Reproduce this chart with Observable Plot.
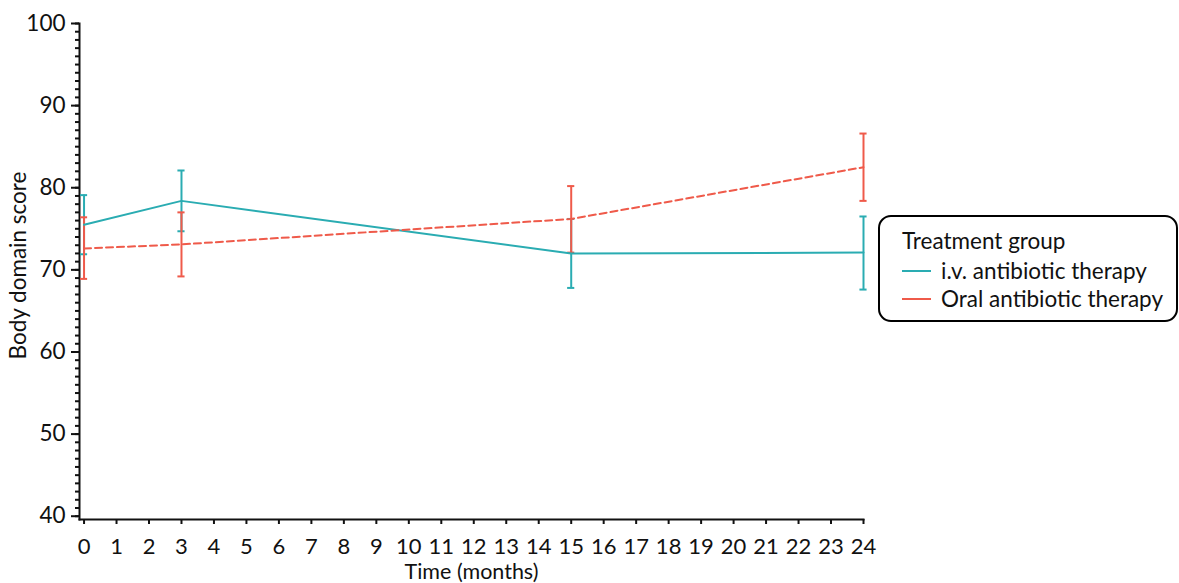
<!DOCTYPE html>
<html>
<head>
<meta charset="utf-8">
<script src="https://cdn.jsdelivr.net/npm/d3@7"></script>
<script src="https://cdn.jsdelivr.net/npm/@observablehq/plot@0.6"></script>
<style>
  html, body { margin: 0; padding: 0; background: #fff; }
  #wrap { position: relative; width: 1179px; height: 583px; font-family: Lato, "Open Sans", sans-serif; }
  .legend {
    position: absolute; left: 878px; top: 215px; width: 296px; height: 103px;
    border: 2px solid #000; border-radius: 13px; box-sizing: content-box;
    font-size: 22.5px; color: #111;
  }
  .legend .title { position: absolute; left: 22px; top: 10px; white-space: nowrap; }
  .legend .item { position: absolute; left: 22px; white-space: nowrap; display: flex; align-items: center; }
  .legend .swatch { display: inline-block; width: 29px; height: 2px; margin-right: 10px; }
</style>
</head>
<body>
<div id="wrap"></div>
<script>
// Body domain score by time since randomisation, mean with 95% CI per treatment group
const months = [0, 3, 15, 24];

const ivMean  = [75.5, 78.4, 72.0, 72.1];
const ivLower = [71.9, 74.7, 67.8, 67.6];
const ivUpper = [79.1, 82.1, 76.2, 76.5];

const oralMean  = [72.6, 73.1, 76.2, 82.5];
const oralLower = [68.9, 69.2, 72.1, 78.4];
const oralUpper = [76.4, 77.0, 80.2, 86.6];

const groups = ["i.v. antibiotic therapy", "Oral antibiotic therapy"];
const groupColors = ["#2aacb2", "#ef5a4a"];

const xTicks = d3.range(0, 25, 1);
const yMajor = d3.range(40, 101, 10);
const yMinor = d3.range(40, 101, 1);

const rows = (group, mean, lower, upper) =>
  months.map((t, i) => ({group, t, mean: mean[i], lower: lower[i], upper: upper[i]}));
const iv = rows(groups[0], ivMean, ivLower, ivUpper);
const oral = rows(groups[1], oralMean, oralLower, oralUpper);

const capHalf = 0.11; // half-width of the error-bar caps, in months

function errorBars(data, color) {
  return [
    Plot.ruleX(data, {x: "t", y1: "lower", y2: "upper", stroke: color, strokeWidth: 2}),
    Plot.ruleY(data, {y: "upper", x1: d => d.t - capHalf, x2: d => d.t + capHalf, stroke: color, strokeWidth: 2}),
    Plot.ruleY(data, {y: "lower", x1: d => d.t - capHalf, x2: d => d.t + capHalf, stroke: color, strokeWidth: 2})
  ];
}

const chart = Plot.plot({
  width: 1179,
  height: 583,
  marginLeft: 79,
  marginRight: 316,
  marginTop: 23,
  marginBottom: 64,
  style: {fontFamily: "Lato, 'Open Sans', sans-serif", fontSize: "22.5px", color: "#111", background: "#fff"},
  x: {domain: [-0.14, 24]},
  y: {domain: [39.6, 100]},
  marks: [
    Plot.axisY(yMinor, {tickSize: 4, text: null, label: null, strokeWidth: 2}),
    Plot.axisY(yMajor, {tickSize: 8, tickPadding: 6, label: null, strokeWidth: 2, fontSize: 22.5}),
    Plot.axisX(xTicks, {tickSize: 5, tickPadding: 14, label: null, strokeWidth: 2, fontSize: 22}),
    Plot.frame({anchor: "left", strokeWidth: 2}),
    Plot.frame({anchor: "bottom", strokeWidth: 2}),
    Plot.text(["Body domain score"], {frameAnchor: "left", textAnchor: "middle", lineAnchor: "middle", dx: -61, dy: -6, rotate: -90, fontSize: 22.5}),
    Plot.text(["Time (months)"], {frameAnchor: "bottom", textAnchor: "middle", lineAnchor: "middle", dy: 53, fontSize: 21.5}),
    ...errorBars(iv, groupColors[0]),
    ...errorBars(oral, groupColors[1]),
    Plot.line(iv, {x: "t", y: "mean", stroke: groupColors[0], strokeWidth: 2}),
    Plot.line(oral, {x: "t", y: "mean", stroke: groupColors[1], strokeWidth: 2, strokeDasharray: "7,4"})
  ]
});

const wrap = document.getElementById("wrap");
wrap.appendChild(chart);

// Legend box on the right
const legend = document.createElement("div");
legend.className = "legend";
legend.innerHTML = `<div class="title">Treatment group</div>` +
  groups.map((g, i) =>
    `<div class="item" style="top:${40 + i * 28}px"><span class="swatch" style="background:${groupColors[i]}"></span>${g}</div>`
  ).join("");
wrap.appendChild(legend);
</script>
</body>
</html>
